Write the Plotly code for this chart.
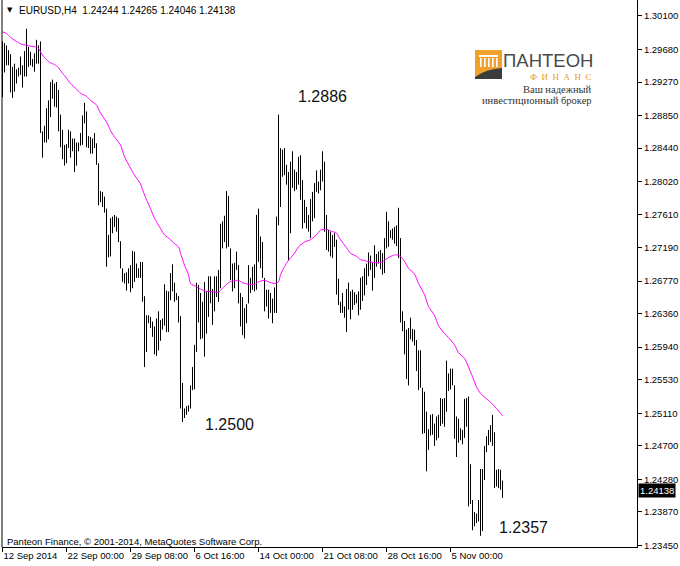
import plotly.graph_objects as go

# ---------------- data ----------------
highs = [
1.2978,1.2976,1.2973,1.2967,1.2962,1.2946,1.2950,1.2943,1.2945,1.2959,
1.2948,1.2966,1.2994,1.2971,1.2965,1.2956,1.2963,1.2980,1.2973,1.2978,
1.2865,1.2872,1.2894,1.2904,1.2927,1.2930,1.2925,1.2927,1.2917,1.2886,
1.2867,1.2848,1.2849,1.2867,1.2865,1.2856,1.2856,1.2851,1.2851,1.2863,
1.2885,1.2901,1.2890,1.2859,1.2858,1.2856,1.2863,1.2850,1.2825,1.2790,
1.2789,1.2783,1.2768,1.2735,1.2756,1.2758,1.2760,1.2758,1.2756,1.2727,
1.2693,1.2687,1.2688,1.2693,1.2697,1.2715,1.2714,1.2699,1.2693,1.2701,
1.2701,1.2658,1.2634,1.2634,1.2632,1.2626,1.2620,1.2630,1.2639,1.2628,
1.2630,1.2673,1.2665,1.2664,1.2687,1.2698,1.2675,1.2662,1.2658,1.2633,
1.2549,1.2517,1.2520,1.2521,1.2546,1.2569,1.2597,1.2675,1.2672,1.2662,
1.2651,1.2676,1.2664,1.2683,1.2683,1.2667,1.2683,1.2683,1.2691,1.2749,
1.2752,1.2759,1.2790,1.2784,1.2718,1.2699,1.2700,1.2714,1.2697,1.2662,
1.2657,1.2643,1.2648,1.2697,1.2681,1.2695,1.2698,1.2760,1.2768,1.2733,
1.2726,1.2681,1.2666,1.2666,1.2662,1.2655,1.2669,1.2758,1.2886,1.2844,
1.2842,1.2844,1.2823,1.2814,1.2827,1.2840,1.2817,1.2814,1.2833,1.2835,
1.2804,1.2779,1.2770,1.2760,1.2780,1.2789,1.2800,1.2816,1.2802,1.2817,
1.2840,1.2827,1.2760,1.2741,1.2739,1.2735,1.2737,1.2729,1.2680,1.2651,
1.2662,1.2645,1.2667,1.2675,1.2664,1.2666,1.2663,1.2660,1.2664,1.2681,
1.2683,1.2693,1.2699,1.2713,1.2709,1.2701,1.2722,1.2711,1.2714,1.2716,
1.2712,1.2731,1.2764,1.2752,1.2741,1.2743,1.2745,1.2747,1.2769,1.2731,
1.2639,1.2627,1.2616,1.2618,1.2631,1.2617,1.2616,1.2603,1.2590,1.2590,
1.2543,1.2538,1.2513,1.2491,1.2509,1.2510,1.2498,1.2507,1.2509,1.2530,
1.2529,1.2530,1.2577,1.2561,1.2567,1.2567,1.2546,1.2507,1.2504,1.2492,
1.2490,1.2529,1.2530,1.2532,1.2447,1.2402,1.2387,1.2385,1.2402,1.2441,
1.2441,1.2470,1.2482,1.2490,1.2496,1.2509,1.2487,1.2440,1.2441,1.2440,
1.24265]

lows = [
1.2908,1.2939,1.2948,1.2948,1.2914,1.2907,1.2915,1.2925,1.2934,1.2936,
1.2920,1.2934,1.2934,1.2946,1.2948,1.2946,1.2940,1.2950,1.2950,1.2863,
1.2832,1.2851,1.2851,1.2855,1.2883,1.2906,1.2896,1.2895,1.2865,1.2845,
1.2830,1.2822,1.2825,1.2844,1.2832,1.2840,1.2814,1.2822,1.2840,1.2847,
1.2848,1.2875,1.2845,1.2844,1.2837,1.2837,1.2844,1.2823,1.2772,1.2776,
1.2770,1.2763,1.2695,1.2707,1.2708,1.2737,1.2745,1.2739,1.2726,1.2693,
1.2676,1.2674,1.2665,1.2674,1.2663,1.2668,1.2676,1.2681,1.2681,1.2681,
1.2651,1.2569,1.2588,1.2624,1.2618,1.2607,1.2585,1.2583,1.2590,1.2602,
1.2616,1.2621,1.2613,1.2613,1.2653,1.2664,1.2651,1.2653,1.2625,1.2517,
1.2500,1.2505,1.2509,1.2513,1.2517,1.2540,1.2541,1.2588,1.2625,1.2604,
1.2605,1.2582,1.2611,1.2632,1.2649,1.2622,1.2639,1.2657,1.2651,1.2668,
1.2718,1.2726,1.2718,1.2720,1.2678,1.2664,1.2668,1.2691,1.2649,1.2620,
1.2609,1.2605,1.2624,1.2649,1.2662,1.2666,1.2664,1.2666,1.2701,1.2693,
1.2681,1.2639,1.2645,1.2630,1.2637,1.2624,1.2637,1.2637,1.2747,1.2770,
1.2808,1.2810,1.2798,1.2703,1.2737,1.2794,1.2790,1.2792,1.2798,1.2779,
1.2743,1.2750,1.2743,1.2739,1.2731,1.2752,1.2756,1.2789,1.2787,1.2791,
1.2802,1.2739,1.2716,1.2714,1.2708,1.2706,1.2720,1.2660,1.2647,1.2637,
1.2637,1.2631,1.2613,1.2641,1.2629,1.2641,1.2647,1.2649,1.2634,1.2641,
1.2652,1.2659,1.2672,1.2683,1.2691,1.2665,1.2681,1.2695,1.2699,1.2692,
1.2685,1.2687,1.2718,1.2720,1.2731,1.2729,1.2724,1.2721,1.2706,1.2625,
1.2614,1.2585,1.2554,1.2546,1.2604,1.2601,1.2596,1.2564,1.2540,1.2543,
1.2485,1.2486,1.2438,1.2465,1.2483,1.2484,1.2470,1.2477,1.2480,1.2495,
1.2498,1.2494,1.2513,1.2539,1.2541,1.2546,1.2479,1.2456,1.2474,1.2477,
1.2472,1.2480,1.2494,1.2394,1.2397,1.2364,1.2369,1.2373,1.2375,1.2357,
1.2363,1.2427,1.2462,1.2471,1.2475,1.2470,1.2417,1.2419,1.2417,1.2415,
1.24046]

ma_idx = [0,2,4,7,9,12,14,17,18,20,22,24,26,28,30,32,34,37,39,42,
          44,47,49,52,54,56,59,61,64,66,69,71,74,76,79,81,84,85,88,89,
          91,93,94,97,99,102,104,108,110,113,115,118,120,123,126,128,131,133,136,138,
          139,141,143,146,148,151,154,157,159,162,164,167,169,172,174,177,179,182,184,187,
          190,192,195,197,199,201,203,206,208,211,213,216,218,221,223,226,228,231,233,235,
          237,239,242,244,247,250]
ma_val = [1.2990,1.2988,1.2983,1.2978,1.2975,1.2973,1.2972,1.2971,1.2969,1.2961,
          1.2955,1.2951,1.2949,1.2945,1.2938,1.2932,1.2925,1.2918,1.2913,1.2909,
          1.2904,1.2898,1.2888,1.2877,1.2866,1.2858,1.2848,1.2833,1.2819,1.2810,
          1.2799,1.2785,1.2768,1.2756,1.2743,1.2735,1.2729,1.2726,1.2720,1.2712,
          1.2697,1.2685,1.2674,1.2670,1.2667,1.2664,1.2664,1.2663,1.2668,1.2675,
          1.2677,1.2678,1.2675,1.2673,1.2673,1.2676,1.2678,1.2676,1.2674,1.2676,
          1.2685,1.2695,1.2703,1.2712,1.2720,1.2726,1.2729,1.2735,1.2741,1.2742,
          1.2740,1.2737,1.2729,1.2719,1.2712,1.2708,1.2704,1.2702,1.2701,1.2700,
          1.2701,1.2705,1.2709,1.2710,1.2708,1.2702,1.2693,1.2686,1.2674,1.2660,
          1.2645,1.2634,1.2621,1.2611,1.2606,1.2597,1.2587,1.2580,1.2569,1.2557,
          1.2544,1.2536,1.2529,1.2525,1.2517,1.2508]

x_tick_idx = [0, 32, 64, 96, 128, 160, 192, 224]
x_tick_labels = ["12 Sep 2014", "22 Sep 00:00", "29 Sep 08:00", "6 Oct 16:00",
                 "14 Oct 00:00", "21 Oct 08:00", "28 Oct 16:00", "5 Nov 00:00"]
y_ticks = [1.30100, 1.29680, 1.29270, 1.28850, 1.28440, 1.28020, 1.27610, 1.27190,
           1.26770, 1.26360, 1.25940, 1.25530, 1.25110, 1.24700, 1.24280, 1.23870, 1.23450]

symbol = "EURUSD,H4"
last_ohlc = [1.24244, 1.24265, 1.24046, 1.24138]
extremes = ["1.2886", "1.2500", "1.2357"]

# ---------------- figure ----------------
bx, by = [], []
for i, (h, l) in enumerate(zip(highs, lows)):
    bx += [i, i, None]
    by += [l, h, None]

fig = go.Figure()
fig.add_trace(go.Scatter(x=bx, y=by, mode="lines",
                         line=dict(color="black", width=1), hoverinfo="skip"))
fig.add_trace(go.Scatter(x=ma_idx, y=ma_val, mode="lines",
                         line=dict(color="#ff00ff", width=1, shape="spline", smoothing=0.6),
                         hoverinfo="skip"))

W, H = 680, 566
L, R, T, B = 2, 43, 0, 19
PW, PH = W - L - R, H - T - B


def px(x):
    return (x - L) / PW


def py(y):
    return (H - B - y) / PH


FONT = "Liberation Sans"
P = dict(xref="paper", yref="paper", showarrow=False)
anns = []
anns.append(dict(x=px(5), y=py(10), text="▼", xanchor="left", yanchor="middle",
                 font=dict(family="DejaVu Sans", size=7, color="black"), **P))
anns.append(dict(x=px(17), y=py(10.5),
                 text=symbol + "  " + " ".join(f"{v:.5f}" for v in last_ohlc),
                 xanchor="left", yanchor="middle",
                 font=dict(family=FONT, size=10, color="black"), **P))
anns.append(dict(x=px(5), y=py(541), text="Panteon Finance, © 2001-2014, MetaQuotes Software Corp.",
                 xanchor="left", yanchor="middle",
                 font=dict(family=FONT, size=9.5, color="black"), **P))
# extremes labels
for txt, (cx, cy) in zip(extremes, [(322, 97), (229, 424), (523, 527)]):
    anns.append(dict(x=px(cx), y=py(cy), text=txt, xanchor="center", yanchor="middle",
                     font=dict(family=FONT, size=16, color="#111111"), **P))
# price tag
anns.append(dict(x=1, y=last_ohlc[3], xref="paper", yref="y", text=f"{last_ohlc[3]:.5f}",
                 showarrow=False, xanchor="left", yanchor="middle", bgcolor="black",
                 borderpad=1, font=dict(family=FONT, size=9.5, color="white"), xshift=1))
# logo texts
anns.append(dict(x=px(595), y=py(61), text="ПАНТЕОН", xanchor="right", yanchor="middle",
                 font=dict(family=FONT, size=18.5, color="#4a4a4a"), **P))
anns.append(dict(x=px(594), y=py(76.5), text="Ф  И  Н  А  Н  С", xanchor="right",
                 yanchor="middle", font=dict(family="Liberation Serif", size=9, color="#e89a2c"), **P))
anns.append(dict(x=px(594), y=py(89), text="Ваш надежный", xanchor="right",
                 yanchor="middle", font=dict(family="Liberation Serif", size=10.5, color="#333333"), **P))
anns.append(dict(x=px(594), y=py(100), text="инвестиционный брокер", xanchor="right",
                 yanchor="middle", font=dict(family="Liberation Serif", size=10.5, color="#333333"), **P))

shapes = []
shapes.append(dict(type="line", xref="paper", yref="paper", x0=0, x1=0, y0=0, y1=1,
                   line=dict(color="black", width=1)))
# logo icon
shapes.append(dict(type="rect", xref="paper", yref="paper", x0=px(475), x1=px(502), y0=py(79), y1=py(50),
                   fillcolor="#f0a12c", line=dict(width=0)))
shapes.append(dict(type="rect", xref="paper", yref="paper", x0=px(479), x1=px(498), y0=py(57), y1=py(55),
                   fillcolor="white", line=dict(width=0)))
for cxp in [480, 484, 488, 492, 496]:
    shapes.append(dict(type="rect", xref="paper", yref="paper", x0=px(cxp), x1=px(cxp + 1.6),
                       y0=py(67), y1=py(58), fillcolor="white", line=dict(width=0)))
shapes.append(dict(type="path", xref="paper", yref="paper",
                   path=f"M {px(475)},{py(79)} L {px(502)},{py(79)} L {px(502)},{py(68)} "
                        f"Q {px(486)},{py(69)} {px(475)},{py(77)} Z",
                   fillcolor="#3c3c3c", line=dict(width=0)))

fig.update_layout(
    width=W, height=H,
    margin=dict(l=L, r=R, t=T, b=B),
    paper_bgcolor="white", plot_bgcolor="white",
    showlegend=False,
    annotations=anns, shapes=shapes,
    xaxis=dict(range=[-0.25, 317.25], showgrid=False, zeroline=False,
               tickmode="array", tickvals=x_tick_idx, ticktext=x_tick_labels,
               ticks="outside", ticklen=4, tickcolor="black", tickangle=0,
               ticklabelposition="outside right",
               showline=True, linecolor="black", linewidth=1,
               tickfont=dict(family=FONT, size=9.5, color="black")),
    yaxis=dict(range=[1.23430, 1.30300], side="right", showgrid=False, zeroline=False,
               tickmode="array", tickvals=y_ticks, ticktext=[f"{v:.5f}" for v in y_ticks],
               ticks="outside", ticklen=4, tickcolor="black",
               showline=True, linecolor="black", linewidth=1,
               tickfont=dict(family=FONT, size=9.5, color="black")),
)

fig.write_html("out.html",
               config={"displayModeBar": False},
               post_script="document.body.style.margin='0';document.body.style.padding='0';"
                           "document.body.style.overflow='hidden';")
